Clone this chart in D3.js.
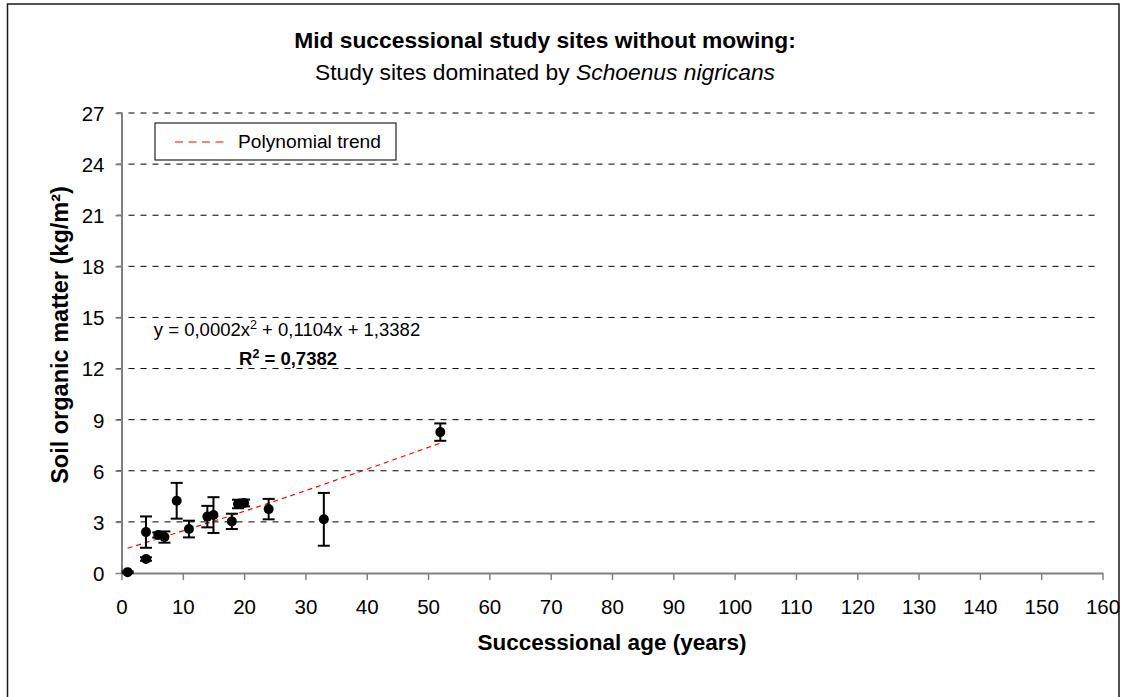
<!DOCTYPE html>
<html><head><meta charset="utf-8">
<script src="https://cdn.jsdelivr.net/npm/d3@7"></script>
<style>body{margin:0;background:#fff}svg{display:block}text{font-family:"Liberation Sans",Arial,sans-serif}</style>
</head><body>
<script>
const ages = [1, 4, 4, 6, 7, 9, 11, 14, 15, 18, 19, 20, 24, 33, 52];
const som = [0.05, 0.82, 2.4, 2.23, 2.11, 4.24, 2.58, 3.31, 3.4, 3.03, 4.05, 4.11, 3.75, 3.15, 8.27];
const errs = [0.05, 0.1, 0.92, 0.15, 0.33, 1.05, 0.49, 0.63, 1.05, 0.45, 0.25, 0.2, 0.6, 1.55, 0.51];
const trendX = [1, 10, 20, 30, 40, 52];
const trendY = [1.45, 2.47, 3.62, 4.83, 6.09, 7.62];
const xTicks = d3.range(0, 161, 10);
const yTicks = d3.range(0, 28, 3);
const titleText = "Mid successional study sites without mowing:";
const subtitlePlain = "Study sites dominated by ";
const subtitleItalic = "Schoenus nigricans";
const xTitle = "Successional age (years)";
const yTitle = "Soil organic matter (kg/m²)";
const legendLabel = "Polynomial trend";

const W = 1125, H = 697;
const L = 121.5, R = 1102.5, T = 113, B = 573;
const svg = d3.select("body").append("svg").attr("width", W).attr("height", H);

svg.append("rect").attr("x", 7.5).attr("y", 4).attr("width", 1111.5).attr("height", 800)
  .attr("fill", "none").attr("stroke", "#1a1a1a").attr("stroke-width", 1.5);

const x = d3.scaleLinear().domain([0, 160]).range([L, R]);
const y = d3.scaleLinear().domain([0, 27]).range([B, T]);

// gridlines
svg.append("g").selectAll("line").data(yTicks.filter(d => d > 0)).join("line")
  .attr("x1", L - 5).attr("x2", R - 4).attr("y1", d => y(d)).attr("y2", d => y(d))
  .attr("stroke", "#000").attr("stroke-width", 1).attr("stroke-dasharray", "6,6");

// axes
const xAxis = svg.append("g").attr("transform", `translate(0,${B})`)
  .call(d3.axisBottom(x).tickValues(xTicks).tickSize(7).tickPadding(19).tickSizeOuter(0));
const yAxis = svg.append("g").attr("transform", `translate(${L},0)`)
  .call(d3.axisLeft(y).tickValues(yTicks).tickSize(6).tickPadding(11).tickSizeOuter(0));
[xAxis, yAxis].forEach(g => {
  g.select(".domain").attr("stroke", "#808080").attr("stroke-width", 2);
  g.selectAll(".tick line").attr("stroke", "#808080").attr("stroke-width", 1.5);
  g.selectAll(".tick text").attr("fill", "#000").style("font-size", "20.5px")
    .style("font-family", '"Liberation Sans",Arial,sans-serif');
});
yAxis.selectAll(".tick text").attr("dy", "0.36em");
xAxis.selectAll(".tick text").attr("dy", "0.71em");

// trend
const line = d3.line().x(d => x(d[0])).y(d => y(d[1])).curve(d3.curveMonotoneX);
svg.append("path").datum(trendX.map((v, i) => [v, trendY[i]]))
  .attr("d", line).attr("fill", "none").attr("stroke", "#ff0000").attr("stroke-width", 1.2)
  .attr("stroke-dasharray", "5,4");

// error bars
const eb = svg.append("g").attr("stroke", "#000").attr("stroke-width", 2);
ages.forEach((a, i) => {
  const cx = x(a), y1 = y(som[i] - errs[i]), y2 = y(som[i] + errs[i]);
  eb.append("line").attr("x1", cx).attr("x2", cx).attr("y1", y1).attr("y2", y2);
  eb.append("line").attr("x1", cx - 6).attr("x2", cx + 6).attr("y1", y1).attr("y2", y1);
  eb.append("line").attr("x1", cx - 6).attr("x2", cx + 6).attr("y1", y2).attr("y2", y2);
});
svg.append("g").selectAll("circle").data(ages).join("circle")
  .attr("cx", d => x(d)).attr("cy", (d, i) => y(som[i])).attr("r", 5).attr("fill", "#000");

// titles
svg.append("text").attr("x", 545).attr("y", 48).attr("text-anchor", "middle")
  .style("font-size", "22.8px").style("font-weight", "bold").text(titleText);
const st = svg.append("text").attr("x", 545).attr("y", 80).attr("text-anchor", "middle")
  .style("font-size", "22.8px");
st.append("tspan").text(subtitlePlain);
st.append("tspan").style("font-style", "italic").text(subtitleItalic);

svg.append("text").attr("x", (L + R) / 2).attr("y", 650).attr("text-anchor", "middle")
  .style("font-size", "22.5px").style("font-weight", "bold").text(xTitle);
svg.append("text").attr("transform", `translate(68,${(T + B) / 2 - 8}) rotate(-90)`)
  .attr("text-anchor", "middle").style("font-size", "23.5px").style("font-weight", "bold").text(yTitle);

// legend
svg.append("rect").attr("x", 155).attr("y", 123).attr("width", 241).attr("height", 37)
  .attr("fill", "#fff").attr("stroke", "#222").attr("stroke-width", 1.2);
svg.append("line").attr("x1", 175).attr("x2", 229).attr("y1", 142).attr("y2", 142)
  .attr("stroke", "#ff0000").attr("stroke-width", 1.2).attr("stroke-dasharray", "8,5.5");
svg.append("text").attr("x", 238).attr("y", 148).style("font-size", "19.2px").text(legendLabel);

// equation
const eq = svg.append("text").attr("x", 287).attr("y", 336).attr("text-anchor", "middle")
  .style("font-size", "18.5px");
eq.append("tspan").text("y = 0,0002x");
eq.append("tspan").attr("dy", -7).style("font-size", "12.5px").text("2");
eq.append("tspan").attr("dy", 7).text(" + 0,1104x + 1,3382");
const r2 = svg.append("text").attr("x", 288).attr("y", 365).attr("text-anchor", "middle")
  .style("font-size", "18.5px").style("font-weight", "bold");
r2.append("tspan").text("R");
r2.append("tspan").attr("dy", -7).style("font-size", "12.5px").text("2");
r2.append("tspan").attr("dy", 7).text(" = 0,7382");
</script>
</body></html>
